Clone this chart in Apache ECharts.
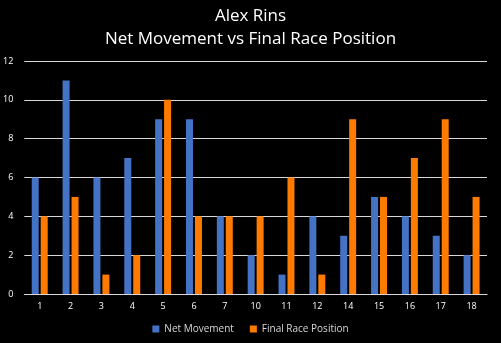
<!DOCTYPE html>
<html>
<head>
<meta charset="utf-8">
<script src="https://cdn.jsdelivr.net/npm/echarts@6/dist/echarts.min.js"></script>
<style>
html,body{margin:0;padding:0;background:#000;}
#chart{width:501px;height:343px;}
</style>
</head>
<body>
<div id="chart"></div>
<script>
const rounds = ['1','2','3','4','5','6','7','10','11','12','14','15','16','17','18'];
const netMovement = [6,11,6,7,9,9,4,2,1,4,3,5,4,3,2];
const finalPosition = [4,5,1,2,10,4,4,4,6,1,9,5,7,9,5];
const yTicks = {min:0, max:12, interval:2};

const chart = echarts.init(document.getElementById('chart'));
chart.setOption({
  backgroundColor:'#000',
  animation:false,
  title:{
    text:'Alex Rins\nNet Movement vs Final Race Position',
    left:'center', top:0,
    textStyle:{color:'#fff', fontFamily:'Open Sans', fontSize:17, fontWeight:500, lineHeight:23}
  },
  legend:{
    bottom:4, left:'center',
    itemWidth:7, itemHeight:7, itemGap:16,
    textStyle:{color:'#d9d9d9', fontFamily:'Open Sans', fontSize:10},
    icon:'rect',
    data:['Net Movement','Final Race Position']
  },
  grid:{left:24, right:14, top:61, bottom:49},
  xAxis:{
    type:'category', data:rounds,
    axisLine:{lineStyle:{color:'#d9d9d9', width:1}},
    axisTick:{show:false},
    axisLabel:{color:'#fff', fontFamily:'Open Sans', fontSize:9, margin:8}
  },
  yAxis:{
    type:'value', min:yTicks.min, max:yTicks.max, interval:yTicks.interval,
    axisLine:{show:false}, axisTick:{show:false},
    axisLabel:{color:'#fff', fontFamily:'Open Sans', fontSize:9, margin:11},
    splitLine:{lineStyle:{color:'#d9d9d9', width:1}}
  },
  series:[
    {name:'Net Movement', type:'bar', data:netMovement, barWidth:7, barGap:'28%', itemStyle:{color:'#4472C4'}},
    {name:'Final Race Position', type:'bar', data:finalPosition, barWidth:7, itemStyle:{color:'#FF7B00'}}
  ]
});
</script>
</body>
</html>
